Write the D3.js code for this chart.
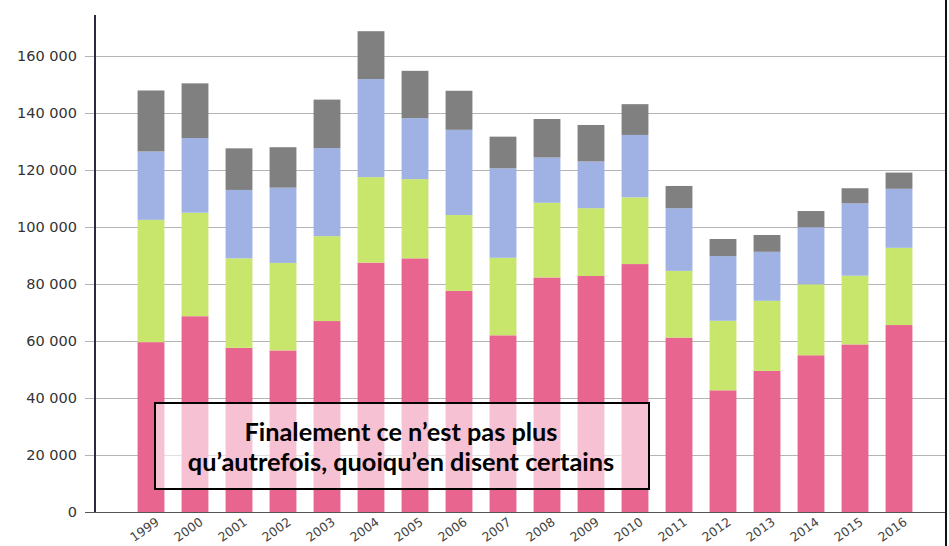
<!DOCTYPE html>
<html>
<head>
<meta charset="utf-8">
<script src="https://cdn.jsdelivr.net/npm/d3@7"></script>
<style>
  html, body { margin: 0; padding: 0; background: #fff; }
  svg { display: block; }
</style>
</head>
<body>
<svg id="chart" width="949" height="546"></svg>
<script>
const years = ["1999","2000","2001","2002","2003","2004","2005","2006","2007","2008","2009","2010","2011","2012","2013","2014","2015","2016"];
// segment values (stacked bottom to top)
const pinkVals  = [59600, 68700, 57600, 56700, 67000, 87500, 89000, 77600, 62000, 82300, 82800, 87000, 61200, 42700, 49500, 55000, 58800, 65600];
const greenVals = [42900, 36300, 31400, 30700, 29800, 30000, 27800, 26600, 27200, 26200, 23800, 23400, 23400, 24400, 24600, 24900, 24100, 27100];
const blueVals  = [24000, 26200, 24000, 26400, 30900, 34400, 21400, 29900, 31400, 15900, 16400, 21900, 22000, 22700, 17200, 20000, 25400, 20700];
const grayVals  = [21400, 19200, 14600, 14200, 17000, 16800, 16600, 13700, 11100, 13500, 12800, 10800,  7800,  6000,  5900,  5700,  5300,  5700];
const yTicks = [0, 20000, 40000, 60000, 80000, 100000, 120000, 140000, 160000];
const noteLines = ["Finalement ce n’est pas plus", "qu’autrefois, quoiqu’en disent certains"];

const seriesKeys = ["pink", "green", "blue", "gray"];
const colors = { pink: "#e8658f", green: "#c9e66c", blue: "#9fb2e3", gray: "#808080" };

const rows = years.map((yr, i) => ({ year: yr, pink: pinkVals[i], green: greenVals[i], blue: blueVals[i], gray: grayVals[i] }));

const svg = d3.select("#chart");
const plotLeft = 95, plotRight = 946, plotTop = 15, plotBottom = 512;

const x = d3.scaleBand().domain(years).range([129, 921]).paddingInner(0.39).paddingOuter(0.195);
const y = d3.scaleLinear().domain([0, 160000]).range([plotBottom, 56]);

const fmt = d3.formatLocale({ decimal: ",", thousands: " ", grouping: [3], currency: ["", "€"] }).format(",d");

// gridlines
svg.append("g").selectAll("line").data(yTicks.filter(d => d > 0)).join("line")
  .attr("x1", 85).attr("x2", plotRight)
  .attr("y1", d => Math.round(y(d)) + 0.5).attr("y2", d => Math.round(y(d)) + 0.5)
  .attr("stroke", "#b4b4b4").attr("stroke-width", 1);

// y tick labels
svg.append("g").selectAll("text").data(yTicks).join("text")
  .attr("x", 77).attr("y", d => y(d))
  .attr("dy", "0.35em")
  .attr("text-anchor", "end")
  .attr("font-family", "'DejaVu Sans', Verdana, sans-serif")
  .attr("font-size", 14.5)
  .attr("fill", "#333")
  .text(d => fmt(d));

// stacked bars
const stack = d3.stack().keys(seriesKeys)(rows);
svg.append("g").selectAll("g").data(stack).join("g")
  .attr("fill", d => colors[d.key])
  .selectAll("rect").data(d => d).join("rect")
  .attr("x", d => x(d.data.year))
  .attr("width", x.bandwidth())
  .attr("y", d => y(d[1]))
  .attr("height", d => y(d[0]) - y(d[1]));

// bottom axis line
svg.append("line")
  .attr("x1", 85).attr("x2", plotRight)
  .attr("y1", plotBottom + 0.5).attr("y2", plotBottom + 0.5)
  .attr("stroke", "#555").attr("stroke-width", 1.2);

// y axis line
svg.append("line")
  .attr("x1", plotLeft).attr("x2", plotLeft)
  .attr("y1", plotTop).attr("y2", plotBottom)
  .attr("stroke", "#2a2a45").attr("stroke-width", 2);

// right border
svg.append("line")
  .attr("x1", 946).attr("x2", 946)
  .attr("y1", 0).attr("y2", 546)
  .attr("stroke", "#111").attr("stroke-width", 2);

// x labels
svg.append("g").selectAll("text").data(years).join("text")
  .attr("transform", d => `translate(${x(d) + x.bandwidth() / 2 + 9},${524}) rotate(-35)`)
  .attr("text-anchor", "end")
  .attr("font-family", "'DejaVu Sans', Verdana, sans-serif")
  .attr("font-size", 12.5)
  .attr("fill", "#444")
  .text(d => d);

// annotation box
const note = svg.append("g");
note.append("rect")
  .attr("x", 155).attr("y", 403)
  .attr("width", 494).attr("height", 86)
  .attr("fill", "rgba(255,255,255,0.6)")
  .attr("stroke", "#000").attr("stroke-width", 2);
note.selectAll("text").data(noteLines).join("text")
  .attr("x", 401).attr("y", (d, i) => 441 + i * 30)
  .attr("text-anchor", "middle")
  .attr("font-family", "Lato, 'Open Sans', sans-serif")
  .attr("font-weight", "bold")
  .attr("font-size", 25.3)
  .attr("fill", "#000")
  .text(d => d);
</script>
</body>
</html>
